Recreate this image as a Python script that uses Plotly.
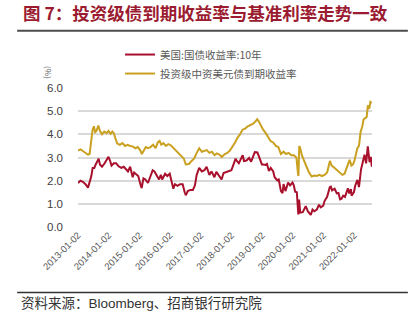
import plotly.graph_objects as go

# ---------------- data ----------------
us10y_dates = [
    "2013-01-02","2013-02-01","2013-03-01","2013-04-01","2013-05-01","2013-05-20","2013-06-10","2013-06-25",
    "2013-07-15","2013-08-01","2013-09-05","2013-09-20","2013-10-15","2013-11-15","2013-12-31",
    "2014-01-20","2014-02-05","2014-03-05","2014-04-01","2014-05-01","2014-06-01","2014-07-01","2014-08-01",
    "2014-08-20","2014-09-15","2014-10-15","2014-11-01","2014-12-01","2014-12-20",
    "2015-01-15","2015-01-30","2015-02-20","2015-03-15","2015-04-15","2015-05-15","2015-06-10","2015-07-01",
    "2015-08-01","2015-08-25","2015-09-15","2015-10-01","2015-11-05","2015-12-01","2015-12-30",
    "2016-01-20","2016-02-11","2016-03-01","2016-04-01","2016-05-01","2016-06-01","2016-06-25","2016-07-08",
    "2016-08-01","2016-09-01","2016-10-01","2016-10-25","2016-11-15","2016-12-15",
    "2017-01-15","2017-02-15","2017-03-13","2017-04-15","2017-05-10","2017-06-14","2017-07-07","2017-08-15",
    "2017-09-07","2017-10-01","2017-11-01","2017-12-01",
    "2018-01-02","2018-02-01","2018-02-21","2018-03-15","2018-04-01","2018-05-17","2018-06-01","2018-07-01",
    "2018-08-01","2018-08-25","2018-09-20","2018-10-08","2018-11-08","2018-12-01","2018-12-31",
    "2019-01-15","2019-02-15","2019-03-01","2019-03-25","2019-04-15","2019-05-15","2019-06-01","2019-07-01",
    "2019-07-20","2019-08-15","2019-09-03","2019-09-15","2019-10-08","2019-11-08","2019-12-01","2019-12-31",
    "2020-01-15","2020-01-31","2020-02-20","2020-03-09","2020-03-18","2020-04-01","2020-05-01","2020-06-05",
    "2020-07-01","2020-08-04","2020-08-25","2020-09-15","2020-10-15","2020-11-10","2020-12-01","2020-12-31",
    "2021-01-15","2021-02-15","2021-03-18","2021-03-31","2021-04-15","2021-05-15","2021-06-10","2021-06-30",
    "2021-07-19","2021-08-05","2021-08-25","2021-09-15","2021-10-20","2021-11-05","2021-11-25","2021-12-03",
    "2021-12-31","2022-01-15","2022-02-10","2022-03-01","2022-03-25","2022-04-15","2022-05-06","2022-05-25",
    "2022-06-14","2022-06-25","2022-07-05","2022-07-20","2022-08-01",
]
us10y_values = [
    1.90,2.00,1.95,1.85,1.70,1.95,2.20,2.55,
    2.55,2.70,2.95,2.70,2.60,2.75,3.03,
    2.85,2.65,2.75,2.75,2.62,2.55,2.60,2.50,
    2.40,2.60,2.15,2.35,2.25,2.20,
    1.85,1.68,2.10,2.05,1.90,2.20,2.45,2.40,
    2.20,2.05,2.25,2.05,2.30,2.20,2.30,
    2.00,1.65,1.85,1.78,1.85,1.85,1.50,1.37,
    1.55,1.60,1.60,1.80,2.25,2.55,
    2.40,2.45,2.60,2.25,2.40,2.15,2.38,2.20,
    2.05,2.33,2.38,2.40,
    2.45,2.75,2.95,2.82,2.75,3.10,2.85,2.87,
    2.98,2.82,3.05,3.23,3.22,3.00,2.70,
    2.70,2.68,2.72,2.42,2.55,2.40,2.15,2.02,
    2.05,1.55,1.46,1.85,1.55,1.92,1.80,1.92,
    1.80,1.52,1.50,0.54,1.18,0.62,0.64,0.90,
    0.67,0.52,0.75,0.68,0.75,0.96,0.85,0.92,
    1.12,1.30,1.72,1.74,1.58,1.65,1.45,1.47,
    1.19,1.22,1.35,1.30,1.67,1.45,1.64,1.35,
    1.51,1.78,2.03,1.72,2.48,2.83,3.12,2.75,
    3.48,3.13,2.80,3.03,2.60,
]

ig_dates = [
    "2013-01-02","2013-02-01","2013-03-01","2013-04-01","2013-05-01","2013-05-20","2013-06-10","2013-06-25",
    "2013-07-10","2013-07-25","2013-08-10","2013-09-01","2013-09-20","2013-10-15","2013-11-10","2013-12-10",
    "2014-01-01","2014-01-25","2014-02-15","2014-03-05","2014-03-25","2014-04-15","2014-05-15","2014-06-15",
    "2014-07-15","2014-08-15","2014-09-15","2014-10-15","2014-11-15","2014-12-15",
    "2015-01-15","2015-02-01","2015-02-25","2015-03-20","2015-04-15","2015-05-15","2015-06-15","2015-07-15",
    "2015-08-10","2015-09-01","2015-09-20","2015-10-15","2015-11-15","2015-12-15",
    "2016-01-15","2016-02-15","2016-03-15","2016-04-15","2016-05-15","2016-06-15","2016-07-08","2016-08-15",
    "2016-09-15","2016-10-15","2016-11-15","2016-12-15",
    "2017-01-15","2017-02-15","2017-03-15","2017-04-15","2017-05-15","2017-06-15","2017-07-15","2017-08-15",
    "2017-09-10","2017-10-15","2017-11-15","2017-12-15",
    "2018-01-15","2018-02-15","2018-03-15","2018-04-15","2018-05-15","2018-06-15","2018-07-15","2018-08-15",
    "2018-09-15","2018-10-15","2018-11-05","2018-11-25","2018-12-15",
    "2019-01-15","2019-02-15","2019-03-15","2019-04-15","2019-05-15","2019-06-15","2019-07-15","2019-08-15",
    "2019-09-15","2019-10-15","2019-11-15","2019-12-15",
    "2020-01-15","2020-02-15","2020-03-05","2020-03-10","2020-03-20","2020-04-01","2020-04-20","2020-05-15",
    "2020-06-15","2020-07-15","2020-08-15","2020-09-15","2020-10-15","2020-11-15","2020-12-15",
    "2021-01-15","2021-02-15","2021-03-20","2021-04-10","2021-05-15","2021-06-15","2021-07-15","2021-08-15",
    "2021-09-10","2021-10-15","2021-11-10","2021-12-01","2021-12-20",
    "2022-01-05","2022-01-25","2022-02-10","2022-03-01","2022-03-20","2022-04-10","2022-04-25","2022-05-15",
    "2022-06-01","2022-06-15","2022-07-01","2022-07-15","2022-08-01",
]
ig_values = [
    3.30,3.35,3.28,3.20,3.12,3.15,3.70,4.20,
    4.35,4.10,4.15,4.38,4.15,4.00,4.12,4.05,
    4.15,4.02,4.12,4.05,3.80,3.60,3.55,3.62,
    3.50,3.55,3.50,3.48,3.40,3.45,
    3.30,3.15,3.30,3.45,3.40,3.45,3.55,3.40,
    3.65,3.72,3.55,3.62,3.50,3.58,
    3.52,3.40,3.30,3.15,3.05,2.95,2.70,2.72,
    2.85,2.95,3.20,3.40,
    3.25,3.30,3.32,3.20,3.25,3.10,3.18,3.12,
    3.02,3.15,3.20,3.30,
    3.45,3.65,3.85,4.00,4.20,4.25,4.35,4.40,
    4.45,4.55,4.65,4.55,4.40,
    4.20,4.05,3.90,3.70,3.65,3.50,3.45,3.15,
    3.25,3.15,3.20,3.10,
    3.10,3.00,2.30,2.20,3.50,3.40,3.10,2.85,
    2.60,2.35,2.18,2.22,2.20,2.25,2.20,
    2.25,2.35,2.85,2.65,2.55,2.45,2.35,2.25,
    2.30,2.60,2.90,2.65,2.70,
    2.85,3.20,3.40,3.50,4.10,4.35,4.65,4.70,
    4.75,5.25,5.10,5.40,5.35,
]

series_names = ["美国:国债收益率:10年", "投资级中资美元债到期收益率"]
series_colors = ["#A8102C", "#C9A020"]
y_ticks = [0, 1, 2, 3, 4, 5, 6]

title_text = "图 7：投资级债到期收益率与基准利率走势一致"
source_text = "资料来源：Bloomberg、招商银行研究院"

CJK = "Noto Sans CJK SC"
LAT = "Liberation Sans, Arial"
MIX = "Liberation Sans, Noto Sans CJK SC"

fig = go.Figure()
fig.add_trace(go.Scatter(x=us10y_dates, y=us10y_values, mode="lines", name=series_names[0],
                         line=dict(color=series_colors[0], width=2)))
fig.add_trace(go.Scatter(x=ig_dates, y=ig_values, mode="lines", name=series_names[1],
                         line=dict(color=series_colors[1], width=2)))

fig.update_layout(
    width=414, height=326,
    margin=dict(l=78, r=42, t=88, b=99),
    paper_bgcolor="white", plot_bgcolor="white",
    showlegend=True,
    legend=dict(x=0.143, y=1.345, xanchor="left", yanchor="top",
                font=dict(family=CJK, size=10.5, color="#595959"),
                bgcolor="rgba(0,0,0,0)", itemwidth=30, tracegroupgap=0,
                traceorder="normal"),
    xaxis=dict(
        type="date", range=["2013-01-02", "2022-08-03"],
        tick0="2013-01-02", dtick="M12", tickformat="%Y-%m-%d",
        tickangle=-45, tickfont=dict(family=LAT, size=9.5, color="#595959"),
        showgrid=False, zeroline=False, showline=False, ticks="",
    ),
    yaxis=dict(
        range=[0, 6], tickvals=y_ticks, tickformat=".1f",
        tickfont=dict(family=LAT, size=11.5, color="#404040"),
        showgrid=True, gridcolor="#D9D9D9", gridwidth=1.5,
        zeroline=False, showline=False, ticks="", ticklabelstandoff=14,
    ),
    annotations=[
        dict(text=title_text, xref="paper", yref="paper", x=-0.195, y=1.54,
             xanchor="left", yanchor="middle", showarrow=False,
             font=dict(family=CJK, size=17.5, color="#9B1B30", weight="bold")),
        dict(text=source_text, xref="paper", yref="paper", x=-0.2, y=-0.55,
             xanchor="left", yanchor="middle", showarrow=False,
             font=dict(family=MIX, size=13.5, color="#333333")),
        dict(text="(%)", xref="paper", yref="paper", x=-0.10, y=1.11,
             xanchor="center", yanchor="middle", showarrow=False, textangle=90,
             font=dict(family=CJK, size=8, color="#595959")),
    ],
    shapes=[
        dict(type="line", xref="paper", yref="paper", x0=-0.207, x1=1.122, y0=1.411, y1=1.411,
             line=dict(color="#4D4D4D", width=2)),
        dict(type="line", xref="paper", yref="paper", x0=-0.207, x1=1.122, y0=-0.471, y1=-0.471,
             line=dict(color="#333333", width=1.5)),
    ],
)

fig.write_html("out.html")
